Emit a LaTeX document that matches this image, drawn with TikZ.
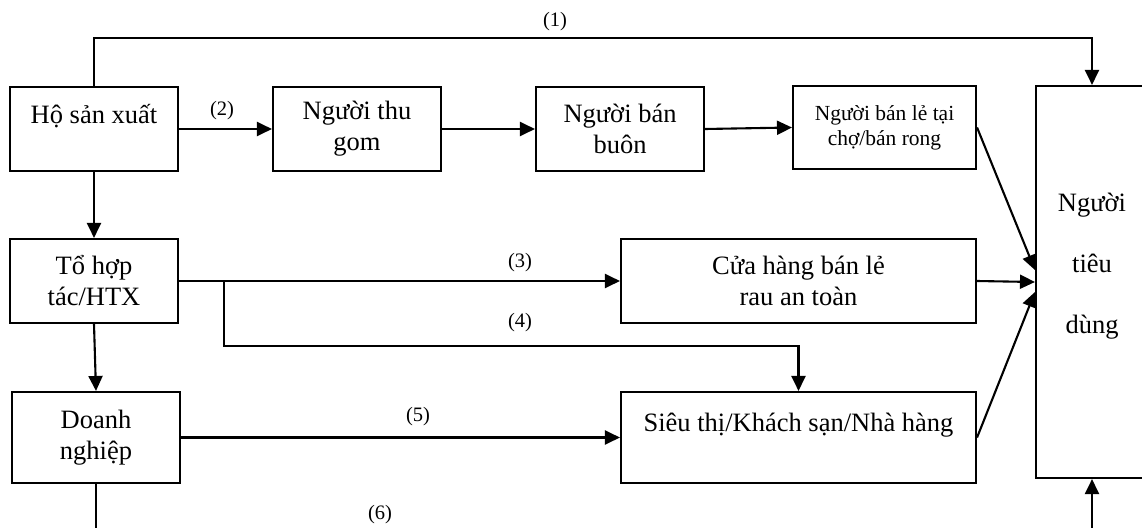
\documentclass[tikz,border=0pt]{standalone}
\usepackage{fontspec}
\setmainfont{Liberation Serif}
\usetikzlibrary{arrows.meta,calc}
\begin{document}
\begin{tikzpicture}[x=1pt,y=-1pt,
 box/.style={draw,line width=2.1pt,rectangle,inner sep=0pt,align=center,font=\fontsize{26.5}{31}\selectfont},
 conn/.style={line width=2.1pt,-{Triangle[length=15pt,width=14pt]}},
 lbl/.style={font=\fontsize{20.5}{24}\selectfont,inner sep=0pt}]
\useasboundingbox (0,0) rectangle (1142,527);
\node[box,minimum width=168pt,minimum height=84pt] (ho) at (94,129) {Hộ sản xuất\\\mbox{}};
\node[box,minimum width=168pt,minimum height=84pt] (thugom) at (357,129) {Người thu\\gom};
\node[box,minimum width=168pt,minimum height=84pt] (banbuon) at (620,129) {Người bán\\buôn};
\node[box,minimum width=183pt,minimum height=83pt,font=\fontsize{21.5}{25}\selectfont] (banle) at (884.5,127.5) {Người bán lẻ tại\\chợ/bán rong};
\node[box,minimum width=112pt,minimum height=392pt] (cons) at (1092,282) {};
\node[align=center,inner sep=0pt,font=\fontsize{26.5}{61}\selectfont] (constext) at (1092,266) {Người\\tiêu\\dùng};
\node[box,minimum width=168pt,minimum height=84pt] (tohop) at (94,281) {Tổ hợp\\tác/HTX};
\node[box,minimum width=355pt,minimum height=84pt] (cuahang) at (798.5,281) {Cửa hàng bán lẻ\\rau an toàn};
\node[box,minimum width=168pt,minimum height=91pt] (doanh) at (96,437.5) {Doanh\\nghiệp};
\node[box,minimum width=355pt,minimum height=91pt] (sieu) at (798.5,437.5) {Siêu thị/Khách sạn/Nhà hàng\\\mbox{}};
\coordinate (top) at (94,38);
\coordinate (br4) at (224,281);
\coordinate (low4) at (224,346);
\coordinate (bot6) at (96,545);
% (1)
\draw[conn] (ho.north) -- (top) -| (cons.north);
\node[lbl] (l1) at (555,22) {(1)};
% (2) chain
\draw[conn] (ho.east) -- (thugom.west);
\node[lbl] (l2) at (222,111) {(2)};
\draw[conn] (thugom.east) -- (banbuon.west);
\draw[conn] (banbuon.east) -- (banle.west);
% vertical chain
\draw[conn] (ho.south) -- (tohop.north);
\draw[conn] (tohop.south) -- (doanh.north);
% (3)
\draw[conn] (tohop.east) -- (cuahang.west);
\node[lbl] (l3) at (520,263) {(3)};
% (4)
\draw[conn] (br4) -- (low4) -| (sieu.north);
\node[lbl] (l4) at (520,323) {(4)};
% (5)
\draw[conn] (doanh.east) -- (sieu.west);
\node[lbl] (l5) at (418,417) {(5)};
% (6)
\draw[conn] (doanh.south) -- (bot6) -| (cons.south);
\node[lbl] (l6) at (380,515) {(6)};
% to consumer
\draw[conn] (banle.east) -- ($(cons.west)+(0,-12)$);
\draw[conn] (cuahang.east) -- ($(cons.west)+(0,0)$);
\draw[conn] (sieu.east) -- ($(cons.west)+(0,10)$);
\end{tikzpicture}
\end{document}
